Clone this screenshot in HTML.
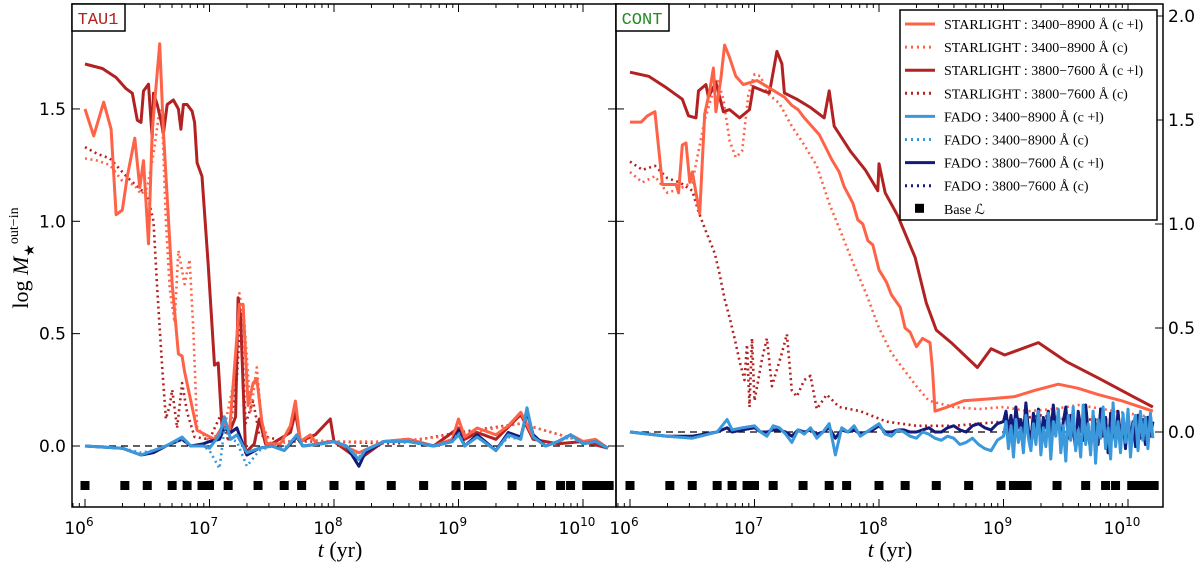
<!DOCTYPE html>
<html><head><meta charset="utf-8"><style>
body{margin:0;background:#fff}
svg{display:block;font-family:"DejaVu Sans","Liberation Sans",sans-serif}
.tk{font-size:17px;fill:#000}
.lg{font-family:"Liberation Serif","DejaVu Serif",serif;font-size:14px}
</style></head><body>
<svg id="chart" width="1200" height="571" viewBox="0 0 1200 571" xmlns="http://www.w3.org/2000/svg">
<defs>
<clipPath id="cl"><rect x="72" y="4" width="544" height="503"/></clipPath>
<clipPath id="cr"><rect x="616" y="4" width="547" height="503"/></clipPath>
</defs>
<g id="gl" clip-path="url(#cl)"></g>
<g id="gr" clip-path="url(#cr)"></g>
<g id="axes"></g>
<rect x="72" y="4" width="53" height="27" fill="#fff" stroke="#000" stroke-width="1.5"/>
<text x="98" y="24" text-anchor="middle" font-family="Liberation Mono,monospace" font-size="17" fill="#b22222">TAU1</text>
<rect x="616" y="4" width="53" height="27" fill="#fff" stroke="#000" stroke-width="1.5"/>
<text x="642" y="24" text-anchor="middle" font-family="Liberation Mono,monospace" font-size="17" fill="#228b22">CONT</text>
<text transform="translate(28,258) rotate(-90)" text-anchor="middle" font-family="Liberation Serif,serif" font-size="22">log <tspan font-style="italic">M</tspan><tspan font-size="14" dy="6">★</tspan><tspan font-size="14" dy="-16">out−in</tspan></text>
<text x="340" y="557" text-anchor="middle" font-family="Liberation Serif,serif" font-size="22"><tspan font-style="italic">t</tspan> (yr)</text>
<text x="890" y="557" text-anchor="middle" font-family="Liberation Serif,serif" font-size="22"><tspan font-style="italic">t</tspan> (yr)</text>
<g id="legend"></g>
</svg>
<script>
const L_slA_x=[6.0,6.07,6.15,6.21,6.25,6.30,6.34,6.40,6.44,6.47,6.51,6.54,6.60,6.63,6.70,6.75,6.78,6.80,6.90,6.97,7.04,7.12,7.16,7.24,7.27,7.31,7.35,7.38,7.42,7.46,7.57,7.65,7.69,7.73,7.81,7.86,7.97,8.0,8.2,8.4,8.6,8.8,8.95,9.0,9.05,9.15,9.3,9.4,9.5,9.6,9.7,9.8,9.9,10.0,10.1,10.2];
const L_slA_y=[1.50,1.38,1.53,1.41,1.03,1.05,1.20,1.37,1.15,1.27,0.90,1.40,1.79,1.40,0.72,0.41,0.40,0.33,0.07,0.05,0.03,0.10,0.06,0.63,0.63,0.18,0.28,0.30,0.11,0.01,0.01,0.09,0.20,0.02,0.05,0.01,0.02,0.02,-0.03,0.02,0.03,0.0,0.03,0.12,0.04,0.08,0.05,0.09,0.15,0.04,0.0,0.02,0.05,0.02,0.03,-0.01];
const L_slAc_x=[6.0,6.1,6.2,6.3,6.4,6.45,6.5,6.55,6.6,6.62,6.65,6.68,6.72,6.75,6.8,6.84,6.87,6.90,7.0,7.12,7.2,7.24,7.28,7.33,7.38,7.42,7.5,7.7,8.0,8.5,9.0,9.5,10.0,10.2];
const L_slAc_y=[1.28,1.27,1.25,1.18,1.16,1.12,1.15,1.30,1.50,1.45,1.0,0.7,0.55,0.87,0.72,0.83,0.52,0.08,0.02,0.08,0.30,0.68,0.55,0.15,0.35,0.10,0.0,0.03,0.02,0.02,0.05,0.10,0.02,0.0];
const L_slB_x=[6.0,6.14,6.25,6.33,6.38,6.42,6.45,6.47,6.51,6.54,6.55,6.58,6.61,6.63,6.66,6.71,6.75,6.77,6.79,6.82,6.86,6.88,6.90,6.94,6.99,7.04,7.07,7.10,7.16,7.21,7.23,7.25,7.29,7.36,7.40,7.45,7.5,7.65,7.69,7.73,7.85,7.97,8.0,8.2,8.4,8.6,8.8,9.0,9.05,9.15,9.3,9.5,9.6,9.8,10.0,10.2];
const L_slB_y=[1.70,1.68,1.64,1.59,1.57,1.45,1.44,1.58,1.61,1.37,1.57,1.52,1.45,1.39,1.52,1.54,1.50,1.41,1.52,1.52,1.49,1.44,1.26,1.20,0.80,0.36,0.37,0.09,0.06,0.13,0.66,0.57,-0.03,0.01,0.12,0.01,0.01,0.06,0.15,0.02,0.05,0.12,0.02,-0.06,0.02,0.03,0.0,0.08,0.03,0.06,0.03,0.14,0.03,0.01,0.02,-0.01];
const L_slBc_x=[6.0,6.1,6.2,6.3,6.35,6.45,6.5,6.55,6.58,6.62,6.65,6.68,6.70,6.74,6.78,6.82,6.88,7.0,7.1,7.15,7.22,7.25,7.29,7.35,7.4,7.6,8.0,8.5,9.0,9.5,10.0,10.2];
const L_slBc_y=[1.33,1.30,1.28,1.22,1.19,1.14,1.12,1.00,0.70,0.35,0.12,0.18,0.25,0.08,0.28,0.15,0.04,0.03,0.15,0.02,0.30,0.60,0.10,0.20,0.05,0.02,0.02,0.01,0.06,0.10,0.02,0.0];
const L_faA_x=[6.0,6.3,6.45,6.55,6.65,6.78,6.85,6.95,7.0,7.08,7.12,7.17,7.22,7.3,7.4,7.5,7.6,7.7,7.75,7.9,8.0,8.1,8.2,8.25,8.4,8.6,8.8,8.95,9.0,9.05,9.15,9.3,9.4,9.5,9.55,9.6,9.7,9.8,9.9,10.0,10.1,10.2];
const L_faA_y=[0.0,-0.01,-0.04,-0.02,0.0,0.04,0.0,0.0,-0.01,0.05,0.13,0.03,0.05,-0.03,-0.01,0.0,-0.02,0.05,0.0,0.01,0.02,0.0,-0.06,-0.02,0.02,0.02,0.0,0.02,0.05,0.0,0.04,-0.02,0.05,0.03,0.17,0.04,0.0,0.02,0.05,0.01,0.02,-0.01];
const L_faAc_y=[0.0,-0.01,-0.03,-0.02,0.0,0.03,0.0,0.0,-0.02,-0.10,0.08,0.03,0.02,-0.09,-0.02,0.0,-0.01,0.04,0.0,0.01,0.02,0.0,-0.05,-0.02,0.02,0.02,0.0,0.02,0.06,0.0,0.04,-0.02,0.04,0.03,0.14,0.04,0.0,0.02,0.04,0.01,0.02,-0.01];
const L_faB_y=[0.0,-0.01,-0.04,-0.03,0.0,0.03,0.0,0.01,0.02,0.03,0.08,0.06,0.08,-0.04,-0.01,0.0,-0.02,0.04,0.0,0.01,0.02,0.0,-0.09,-0.03,0.02,0.02,0.0,0.02,0.07,0.0,0.05,-0.02,0.06,0.04,0.15,0.05,0.0,0.02,0.05,0.01,0.02,-0.01];

const R_slA_x=[6.0,6.09,6.14,6.20,6.26,6.37,6.39,6.42,6.45,6.48,6.50,6.56,6.60,6.64,6.67,6.69,6.73,6.76,6.80,6.85,6.91,7.02,7.13,7.24,7.30,7.35,7.40,7.46,7.52,7.57,7.62,7.68,7.72,7.79,7.83,7.87,7.91,7.95,8.0,8.06,8.1,8.17,8.21,8.25,8.30,8.35,8.41,8.43,8.45,8.55,8.68,8.9,9.09,9.25,9.44,9.6,9.76,9.95,10.2];
const R_slA_y=[1.49,1.49,1.52,1.54,1.19,1.19,1.15,1.38,1.39,1.20,1.25,1.05,1.53,1.64,1.75,1.54,1.70,1.86,1.80,1.71,1.67,1.69,1.65,1.61,1.57,1.55,1.51,1.47,1.43,1.37,1.31,1.25,1.18,1.10,1.02,1.00,0.92,0.90,0.78,0.72,0.66,0.60,0.50,0.48,0.41,0.45,0.43,0.30,0.10,0.12,0.15,0.16,0.17,0.20,0.23,0.21,0.18,0.15,0.10];
const R_slAc_x=[6.0,6.1,6.2,6.3,6.4,6.5,6.55,6.6,6.65,6.7,6.75,6.8,6.85,6.9,6.95,7.0,7.05,7.1,7.2,7.3,7.4,7.5,7.6,7.7,7.8,7.9,8.0,8.1,8.2,8.3,8.4,8.6,8.8,9.0,9.2,9.4,9.6,9.8,10.0,10.2];
const R_slAc_y=[1.25,1.20,1.23,1.15,1.17,1.20,1.35,1.50,1.60,1.70,1.60,1.40,1.32,1.35,1.62,1.72,1.71,1.63,1.58,1.47,1.38,1.28,1.10,0.95,0.80,0.66,0.50,0.38,0.30,0.22,0.15,0.12,0.11,0.12,0.10,0.11,0.13,0.11,0.09,0.07];
const R_slB_x=[6.0,6.15,6.28,6.42,6.47,6.53,6.55,6.61,6.63,6.69,6.75,6.80,6.88,6.96,6.99,7.07,7.12,7.18,7.22,7.24,7.34,7.45,7.56,7.60,7.64,7.77,7.89,7.99,8.0,8.05,8.15,8.29,8.38,8.46,8.58,8.79,8.90,9.01,9.28,9.50,9.76,10.04,10.2];
const R_slB_y=[1.73,1.71,1.66,1.60,1.52,1.51,1.64,1.67,1.61,1.68,1.54,1.55,1.51,1.55,1.66,1.64,1.63,1.83,1.77,1.63,1.60,1.56,1.51,1.64,1.47,1.35,1.26,1.16,1.29,1.15,1.04,0.84,0.62,0.49,0.43,0.31,0.40,0.37,0.43,0.34,0.26,0.17,0.12];
const R_slBc_x=[6.0,6.1,6.2,6.3,6.4,6.5,6.55,6.6,6.68,6.72,6.76,6.8,6.84,6.88,6.92,6.94,6.96,6.98,7.0,7.06,7.1,7.14,7.18,7.22,7.26,7.3,7.34,7.4,7.45,7.5,7.58,7.68,7.85,8.06,8.3,8.6,9.0,9.3,9.5,9.8,10.2];
const R_slBc_y=[1.30,1.26,1.28,1.22,1.20,1.16,1.06,0.98,0.86,0.76,0.64,0.55,0.45,0.34,0.25,0.42,0.12,0.45,0.15,0.35,0.45,0.22,0.30,0.38,0.47,0.20,0.17,0.25,0.27,0.11,0.18,0.12,0.10,0.05,0.03,0.03,0.05,0.08,0.06,0.06,0.03];
const R_fa_x=[6.0,6.3,6.5,6.7,6.78,6.82,6.9,7.0,7.05,7.1,7.15,7.2,7.25,7.3,7.35,7.4,7.45,7.5,7.55,7.6,7.65,7.7,7.75,7.8,7.85,7.9,7.95,8.0,8.05,8.1,8.15,8.2,8.25,8.3,8.35,8.4,8.45,8.5,8.55,8.6,8.65,8.7,8.75,8.8,8.85,8.9,8.95,9.0,9.02,9.04,9.06,9.08,9.1,9.12,9.14,9.16,9.18,9.2,9.22,9.24,9.26,9.28,9.3,9.32,9.34,9.36,9.38,9.4,9.42,9.44,9.46,9.48,9.5,9.52,9.54,9.56,9.58,9.6,9.62,9.64,9.66,9.68,9.7,9.72,9.74,9.76,9.78,9.8,9.82,9.84,9.86,9.88,9.9,9.92,9.94,9.96,9.98,10.0,10.02,10.04,10.06,10.08,10.1,10.12,10.14,10.16,10.18,10.2];
const R_faA_y=[0.0,-0.02,-0.03,0.0,0.06,0.01,0.02,0.03,0.0,-0.02,0.03,0.02,-0.01,-0.05,0.01,-0.01,0.02,-0.03,0.0,0.04,-0.11,0.02,0.0,0.03,-0.02,0.0,0.02,0.04,-0.01,-0.02,0.01,0.0,-0.02,-0.03,0.0,-0.01,-0.03,-0.04,-0.02,-0.03,-0.06,-0.05,-0.03,-0.06,-0.08,-0.09,-0.04,-0.02,0.05,-0.08,0.03,-0.12,0.06,-0.05,0.02,-0.10,0.08,-0.03,-0.09,0.04,-0.06,0.10,-0.11,0.02,-0.07,0.09,-0.13,0.05,-0.02,0.11,-0.10,0.03,-0.14,0.08,-0.04,0.12,-0.09,0.01,-0.12,0.13,-0.06,0.04,-0.11,0.10,-0.15,0.06,-0.03,0.12,-0.08,0.02,-0.13,0.14,-0.07,0.05,-0.10,0.09,-0.05,0.11,-0.12,0.03,0.08,-0.09,0.10,-0.04,0.07,-0.08,0.09,-0.03,0.05,0.0];
const R_faB_y=[0.0,-0.02,-0.02,0.0,0.02,0.0,0.01,0.02,0.0,0.0,0.01,0.01,0.0,-0.02,0.01,0.0,0.01,-0.01,0.0,0.02,-0.03,0.01,0.0,0.01,-0.01,0.0,0.01,0.03,0.0,0.0,0.01,0.01,0.0,0.0,0.01,0.02,0.0,0.0,0.02,0.03,0.01,0.0,0.03,0.04,0.02,0.01,0.04,0.05,0.10,0.0,0.08,-0.03,0.12,0.02,0.06,-0.02,0.14,0.01,-0.04,0.09,0.0,0.11,-0.05,0.07,0.02,0.10,-0.02,0.13,0.0,0.09,-0.06,0.05,0.12,-0.03,0.08,0.01,-0.08,0.10,0.02,-0.04,0.13,0.0,-0.09,0.08,0.03,-0.06,0.11,-0.02,0.07,-0.10,0.09,0.01,-0.05,0.10,-0.03,0.06,-0.08,0.09,-0.04,0.05,-0.07,0.08,-0.03,0.06,-0.06,0.07,-0.02,0.05,0.0,0.04];
const base_x=[6.0,6.32,6.5,6.7,6.82,6.94,7.0,7.15,7.39,7.6,7.74,8.0,8.21,8.46,8.72,8.98,9.08,9.13,9.19,9.43,9.66,9.82,9.9,10.03,10.1,10.15,10.21];
const yTicksL=[0.0,0.5,1.0,1.5];
const yTicksR=[0.0,0.5,1.0,1.5,2.0];
const xDecades=[6,7,8,9,10];
const legendLabels=["STARLIGHT : 3400−8900 Å (c +l)","STARLIGHT : 3400−8900 Å (c)","STARLIGHT : 3800−7600 Å (c +l)","STARLIGHT : 3800−7600 Å (c)","FADO : 3400−8900 Å (c +l)","FADO : 3400−8900 Å (c)","FADO : 3800−7600 Å (c +l)","FADO : 3800−7600 Å (c)","Base ℒ"];

const NS='http://www.w3.org/2000/svg';
const C1='#ff6347',C2='#b22222',C3='#3a98db',C4='#141a78';
const xl=lt=>85+(lt-6)*124.5, xr=lt=>630+(lt-6)*124.5;
const yl=v=>446-v*224.7, yr=v=>432-v*208;
function mk(tag,par,at){const e=document.createElementNS(NS,tag);for(const k in at)e.setAttribute(k,at[k]);par.appendChild(e);return e;}
function series(g,xs,ys,X,Y,col,dot,name){
  const d=xs.map((x,i)=>(i?'L':'M')+X(x).toFixed(1)+','+Y(ys[i]).toFixed(1)).join('');
  const p=mk('path',g,{d:d,fill:'none',stroke:col,'stroke-width':dot?2.6:3,'stroke-dasharray':dot?'2,3.5':'none','stroke-linejoin':'round'});
  
  
}
const gl=document.getElementById('gl'),gr=document.getElementById('gr'),ax=document.getElementById('axes');
mk('line',gl,{x1:85,x2:600,y1:yl(0),y2:yl(0),stroke:'#000','stroke-dasharray':'7,5','stroke-width':1.2});
mk('line',gr,{x1:630,x2:1150,y1:yr(0),y2:yr(0),stroke:'#000','stroke-dasharray':'7,5','stroke-width':1.2});
series(gl,L_slBc_x,L_slBc_y,xl,yl,C2,true,'left-starlight-3800-c');
series(gl,L_slAc_x,L_slAc_y,xl,yl,C1,true,'left-starlight-3400-c');
series(gl,L_slB_x,L_slB_y,xl,yl,C2,false,'left-starlight-3800-cl');
series(gl,L_slA_x,L_slA_y,xl,yl,C1,false,'left-starlight-3400-cl');
series(gl,L_faA_x,L_faB_y,xl,yl,C4,true,'left-fado-3800-c');
series(gl,L_faA_x,L_faB_y,xl,yl,C4,false,'left-fado-3800-cl');
series(gl,L_faA_x,L_faAc_y,xl,yl,C3,true,'left-fado-3400-c');
series(gl,L_faA_x,L_faA_y,xl,yl,C3,false,'left-fado-3400-cl');
series(gr,R_slBc_x,R_slBc_y,xr,yr,C2,true,'right-starlight-3800-c');
series(gr,R_slAc_x,R_slAc_y,xr,yr,C1,true,'right-starlight-3400-c');
series(gr,R_slB_x,R_slB_y,xr,yr,C2,false,'right-starlight-3800-cl');
series(gr,R_slA_x,R_slA_y,xr,yr,C1,false,'right-starlight-3400-cl');
series(gr,R_fa_x,R_faB_y,xr,yr,C4,true,'right-fado-3800-c');
series(gr,R_fa_x,R_faB_y,xr,yr,C4,false,'right-fado-3800-cl');
series(gr,R_fa_x,R_faA_y,xr,yr,C3,true,'right-fado-3400-c');
series(gr,R_fa_x,R_faA_y,xr,yr,C3,false,'right-fado-3400-cl');
base_x.forEach(b=>{
  const s=mk('rect',gl,{x:xl(b)-4.5,y:481,width:9,height:9,fill:'#000'});
  
  
  const r=mk('rect',gr,{x:xr(b)-4.5,y:481,width:9,height:9,fill:'#000'});
  
  
});
mk('rect',ax,{x:72,y:4,width:544,height:503,fill:'none',stroke:'#000','stroke-width':1.5});
mk('rect',ax,{x:616,y:4,width:547,height:503,fill:'none',stroke:'#000','stroke-width':1.5});
[[xl,72,616],[xr,616,1163]].forEach(([X,a,b])=>{
  for(let d=5;d<=10;d++)for(let m=1;m<10;m++){
    const x=X(d+Math.log10(m)); if(x<a||x>b)continue;
    const len=m==1?8:4;
    mk('line',ax,{x1:x,x2:x,y1:507,y2:507-len,stroke:'#000'});
    mk('line',ax,{x1:x,x2:x,y1:4,y2:4+len,stroke:'#000'});
  }
  xDecades.forEach(d=>{const t=mk('text',ax,{x:X(d)-6,y:534,'text-anchor':'middle',class:'tk'});
    t.textContent='10';const s=mk('tspan',t,{dy:-8,'font-size':12});s.textContent=d;
    
    });
});
yTicksL.forEach(v=>{const y=yl(v);mk('line',ax,{x1:72,x2:80,y1:y,y2:y,stroke:'#000'});mk('line',ax,{x1:608,x2:616,y1:y,y2:y,stroke:'#000'});mk('line',ax,{x1:616,x2:624,y1:y,y2:y,stroke:'#000'});
  const t=mk('text',ax,{x:66,y:y+6,'text-anchor':'end',class:'tk'});t.textContent=v.toFixed(1);
  
  });
yTicksR.forEach(v=>{const y=yr(v);mk('line',ax,{x1:1155,x2:1163,y1:y,y2:y,stroke:'#000'});
  const t=mk('text',ax,{x:1168,y:y+6,class:'tk'});t.textContent=v.toFixed(1);
  
  });
const lg=document.getElementById('legend');
mk('rect',lg,{x:900,y:10,width:257,height:210,fill:'#fff',stroke:'#000','stroke-width':1.5});
const lcol=[C1,C1,C2,C2,C3,C3,C4,C4];
legendLabels.forEach((s,i)=>{
  const y=24+i*23.1;
  if(i<8){const l=mk('line',lg,{x1:905,x2:935,y1:y,y2:y,stroke:lcol[i],'stroke-width':3,'stroke-dasharray':i%2?'2,4':'none'});
    
    }
  else mk('rect',lg,{x:915,y:y-5,width:9,height:9,fill:'#000'});
  const t=mk('text',lg,{x:944,y:y+5,class:'lg'});t.textContent=s;
  
  
});
</script>
</body></html>
